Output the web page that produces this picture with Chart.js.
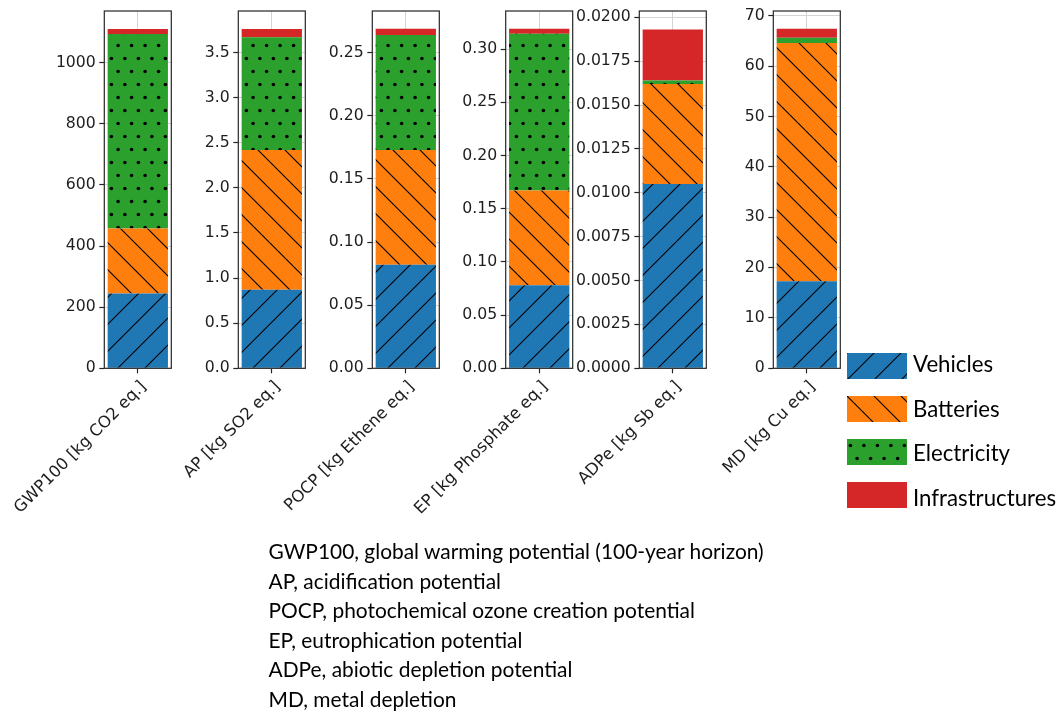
<!DOCTYPE html>
<html>
<head>
<meta charset="utf-8">
<script src="https://cdn.jsdelivr.net/npm/chart.js@4.4.1/dist/chart.umd.min.js"></script>
<style>
  html, body { margin: 0; padding: 0; background: #ffffff; width: 1059px; height: 711px; overflow: hidden; }
  canvas.panel { position: absolute; left: 0; top: 0; }
  canvas.patch { position: absolute; }
  svg#txt { position: absolute; left: 0; top: 0; }
</style>
</head>
<body>
<div id="root"></div>
<svg id="txt" width="1059" height="711" xmlns="http://www.w3.org/2000/svg"></svg>
<script>
// ---------- data ----------
const categories = ['GWP100 [kg CO2 eq.]', 'AP [kg SO2 eq.]', 'POCP [kg Ethene eq.]',
                    'EP [kg Phosphate eq.]', 'ADPe [kg Sb eq.]', 'MD [kg Cu eq.]'];
const seriesNames = ['Vehicles', 'Batteries', 'Electricity', 'Infrastructures'];
const vehicles        = [245, 0.87, 0.082, 0.078, 0.0105, 17.3];
const batteries       = [212, 1.55, 0.091, 0.089, 0.0057, 47.3];
const electricity     = [637, 1.25, 0.091, 0.1475, 0.0002, 1.0];
const infrastructures = [16, 0.09, 0.005, 0.0047, 0.0029, 1.8];
const yMax      = [1169, 3.96, 0.2831, 0.3358, 0.02036, 70.93];
const yStep     = [200, 0.5, 0.05, 0.05, 0.0025, 10];
const yDecimals = [0, 1, 2, 2, 4, 0];
const notes = [
  'GWP100, global warming potential (100-year horizon)',
  'AP, acidification potential',
  'POCP, photochemical ozone creation potential',
  'EP, eutrophication potential',
  'ADPe, abiotic depletion potential',
  'MD, metal depletion'
];

// ---------- styles / layout ----------
const W = 1059, H = 711;
const colors = ['#1f77b4', '#ff7f0e', '#2ca02c', '#d62728'];
const hatches = ['/', '\\', '.', ''];
const panelLeft = [104.3, 238.3, 372.3, 505.7, 639.3, 773.3];
const panelWidth = 67;
const areaTop = 11, areaBottom = 368.3;
const yAxisW = 80, xAxisH = 150;
const tickFont = { family: 'DejaVu Sans', size: 15.7 };
const xFont = { family: 'DejaVu Sans', size: 16.4 };
const textColor = '#1e1e1e';

function makePattern(color, hatch) {
  const c = document.createElement('canvas');
  const s = 27;
  c.width = s; c.height = hatch === '.' ? 26 : s;
  const g = c.getContext('2d');
  g.fillStyle = color;
  g.fillRect(0, 0, c.width, c.height);
  g.strokeStyle = '#000';
  g.fillStyle = '#000';
  g.lineWidth = 1.1;
  if (hatch === '/') {
    g.beginPath();
    g.moveTo(-2, s + 2); g.lineTo(s + 2, -2);
    g.moveTo(-2, 2); g.lineTo(2, -2);
    g.moveTo(s - 2, s + 2); g.lineTo(s + 2, s - 2);
    g.stroke();
  } else if (hatch === '\\') {
    g.beginPath();
    g.moveTo(-2, -2); g.lineTo(s + 2, s + 2);
    g.moveTo(s - 2, -2); g.lineTo(s + 2, 2);
    g.moveTo(-2, s - 2); g.lineTo(2, s + 2);
    g.stroke();
  } else if (hatch === '.') {
    const pts = [[3.4, 6.5], [16.9, 6.5], [10.1, 19.5], [23.6, 19.5]];
    pts.forEach(([x, y]) => { g.beginPath(); g.arc(x, y, 1.8, 0, Math.PI * 2); g.fill(); });
  }
  return g.createPattern(c, 'repeat');
}

const series = [vehicles, batteries, electricity, infrastructures];
const root = document.getElementById('root');
const patterns = colors.map((c, k) => makePattern(c, hatches[k]));

const framePlugin = {
  id: 'frame',
  afterDatasetsDraw(chart) {
    const { ctx, chartArea: a } = chart;
    ctx.save();
    ctx.strokeStyle = '#262626';
    ctx.lineWidth = 1.2;
    ctx.strokeRect(a.left, a.top, a.right - a.left, a.bottom - a.top);
    ctx.restore();
  }
};

categories.forEach((cat, i) => {
  const cv = document.createElement('canvas');
  cv.className = 'panel';
  cv.width = W; cv.height = H;
  cv.style.width = W + 'px'; cv.style.height = H + 'px';
  root.appendChild(cv);
  const step = yStep[i], dec = yDecimals[i];
  new Chart(cv, {
    type: 'bar',
    data: {
      labels: [cat],
      datasets: seriesNames.map((n, k) => ({
        label: n,
        data: [series[k][i]],
        backgroundColor: patterns[k],
        borderWidth: 0,
        barPercentage: 0.9,
        categoryPercentage: 1.0
      }))
    },
    options: {
      responsive: false,
      animation: false,
      devicePixelRatio: 1,
      events: [],
      layout: {
        padding: {
          left: panelLeft[i] - yAxisW,
          right: W - panelLeft[i] - panelWidth,
          top: areaTop,
          bottom: H - areaBottom - xAxisH
        }
      },
      plugins: { legend: { display: false }, tooltip: { enabled: false } },
      scales: {
        x: {
          stacked: true,
          offset: true,
          border: { display: false },
          grid: { offset: false, color: '#d4d4d4', lineWidth: 1, tickColor: '#262626', tickWidth: 1.2, tickLength: 5 },
          ticks: { autoSkip: false, minRotation: 45, maxRotation: 45, color: textColor, font: xFont, padding: 4, labelOffset: 6 },
          afterFit(s) { s.height = xAxisH; s.paddingLeft = 0; s.paddingRight = 0; }
        },
        y: {
          stacked: true,
          min: 0,
          max: yMax[i],
          border: { display: false },
          grid: { color: '#d4d4d4', lineWidth: 1, tickColor: '#262626', tickWidth: 1.2, tickLength: 5 },
          ticks: {
            autoSkip: false,
            stepSize: step,
            color: textColor,
            font: tickFont,
            padding: 3.5,
            callback: v => Number(v).toFixed(dec)
          },
          afterBuildTicks(s) {
            const t = [];
            for (let k = 0; k * step <= s.max + step * 1e-6; k++) t.push({ value: k * step });
            s.ticks = t;
          },
          afterFit(s) { s.width = yAxisW; s.paddingTop = 0; s.paddingBottom = 0; }
        }
      }
    },
    plugins: [framePlugin]
  });
});

// ---------- legend patches ----------
const patchTops = [353, 396, 438.5, 482];
seriesNames.forEach((n, k) => {
  const c = document.createElement('canvas');
  c.className = 'patch';
  c.width = 60; c.height = 26;
  c.style.left = '847px'; c.style.top = patchTops[k] + 'px';
  const g = c.getContext('2d');
  g.fillStyle = makePattern(colors[k], hatches[k]);
  g.fillRect(0, 0, 60, 26);
  root.appendChild(c);
});

// ---------- texts (legend labels, notes) ----------
const svg = document.getElementById('txt');
const mctx = document.createElement('canvas').getContext('2d');
mctx.font = '100px Lato';
const legendSize = 100 * 143 / mctx.measureText('Infrastructures').width;
const noteSize = 100 * 496 / mctx.measureText(notes[0]).width;
function addText(str, x, y, size) {
  const t = document.createElementNS('http://www.w3.org/2000/svg', 'text');
  t.setAttribute('x', x); t.setAttribute('y', y);
  t.setAttribute('font-family', 'Lato');
  t.setAttribute('font-size', size.toFixed(2));
  t.setAttribute('fill', '#000');
  t.textContent = str;
  svg.appendChild(t);
}
const legendBaselines = [371.7, 416.5, 460.7, 505.5];
seriesNames.forEach((n, k) => addText(n, 913, legendBaselines[k], legendSize));
notes.forEach((n, k) => addText(n, 268.5, 559.3 + k * 29.5, noteSize));
</script>
</body>
</html>
